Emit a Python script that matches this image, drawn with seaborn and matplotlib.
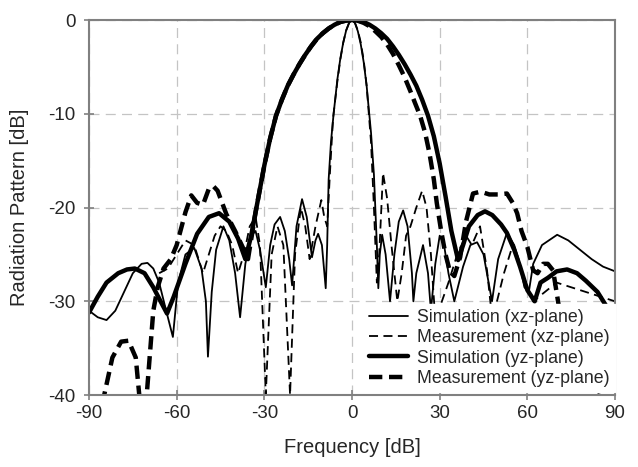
import pandas as pd
import matplotlib
matplotlib.use('Agg')
import matplotlib.pyplot as plt
import seaborn as sns

# Simulation (xz-plane) - narrow beam, thin solid
sim_xz_deg = [-90, -87, -84, -81, -78, -75, -72, -70, -68, -66, -64, -61.3, -59.5, -57, -54,
              -51.5, -50, -49.3, -48, -46.5, -44, -42, -40, -38.3, -36.5, -34.5, -33, -31.5,
              -29.5, -28, -26.5, -24.6, -23, -21.5, -20.5, -19, -17.1, -15.5, -13.7, -12.5,
              -11.6, -10.3, -9, -8.5, -8, -7.2, -6.3, -5, -4, -3, -2, -1, 0, 1, 2, 3, 4, 5,
              5.5, 6.5, 7.5, 8.5, 9, 9.5, 10.3, 11.5, 13, 14.5, 16, 17.5, 19, 20.5, 21, 22,
              24.3, 26, 27, 28.5, 30, 31.5, 33, 35, 38, 40.5, 42.8, 45, 47.9, 50, 53, 55.5,
              57, 59, 60.5, 62, 65, 70.2, 74, 78, 82, 85.9, 90]
sim_xz_db = [-31, -31.7, -32, -31, -29, -27, -26, -25.9, -26.5, -28, -30.5, -33.8, -28, -25, -24.3,
             -26.5, -30, -35.9, -29, -24.5, -22, -23.5, -27, -31.7, -26, -23, -22.5, -24.5,
             -28.5, -24, -21.8, -21, -22.5, -25.5, -28.3, -22, -19.1, -21, -25.3, -23.5,
             -22.8, -24, -28.6, -24, -17, -13, -10, -6.3, -4.1, -2.4, -1.1, -0.3, 0, -0.3, -1.2, -2.6, -4.5, -7,
             -8.7, -12, -16.5, -24, -28.6, -25, -22.9, -25, -30, -25, -21.5, -20.3, -22, -27, -30, -27,
             -24, -27, -31, -26, -23, -24, -27, -30, -26.3, -24, -23.7, -25, -30, -25.5, -22.7, -24,
             -25.5, -28.5, -29, -26, -24, -22.9, -23.5, -24.5, -25.5, -26.3, -26.8]

# Measurement (xz-plane) - thin dashed
meas_xz_deg = [-66, -63, -60, -57, -54, -51, -49, -47, -45, -43, -41, -39, -37,
               -35, -33, -31.5, -29.5, -27.5, -25.5, -23.5, -21.2, -19.5, -17.5, -16, -14.5,
               -12.5, -10.5, -9.5, -8.5, -7.5, -6.5, -5, -4, -3, -2, -1, 0, 1, 2, 3, 4, 5,
               5.5, 6.5, 7.5, 8.5, 9.3, 10.6, 12, 13.5, 15.5, 17, 18.5, 20, 22, 24, 25.5, 27,
               28.5, 33, 36, 39, 41, 43.8, 46.2, 48, 52, 55, 58, 62, 70, 80, 90]
meas_xz_db = [-27, -26.5, -25, -23.5, -24, -27, -25, -23, -22, -22.5, -24, -27, -25,
              -22, -21, -24, -40, -25, -22, -24, -40, -25, -20, -22, -25.5,
              -22, -19.2, -21, -22, -16, -10.5, -6.5, -4.2, -2.4, -1.1, -0.3, 0, -0.3, -1.1, -2.4, -4.3, -7,
              -9, -13, -20, -28, -25, -16.3, -19, -24, -30, -27, -23, -22, -20, -18.2, -20, -25,
              -32, -28, -25, -23, -24, -22, -26.7, -32, -27, -24, -27, -30, -28, -29, -30]

# Simulation (yz-plane) - wide beam, thick solid
sim_yz_deg = [-90, -87, -84, -80, -77, -74.3, -71, -68, -65.5, -63.3, -61, -57, -53, -49, -45.5,
              -42, -39, -36.5, -34.5, -33, -31.5, -30, -28, -26, -24, -22, -20, -18, -16, -14,
              -12, -10, -8, -6, -4, -2, 0, 2, 4, 6, 8, 10, 12, 14, 16, 18, 20, 22, 24, 26, 28,
              30, 32, 34, 36.3, 38, 40, 43, 45.5, 48, 51, 53, 55.5, 57.5, 60, 62.5, 64.5, 67,
              70, 73.6, 77, 80, 84, 87, 90]
sim_yz_db = [-31.2, -29.5, -28, -27, -26.6, -26.5, -27, -28.5, -30, -31.3, -29.5, -26, -22.8, -21, -20.6,
             -21.5, -23.3, -25.5, -23, -20.5, -18, -15.5, -12.6, -10.2, -8.5, -7, -5.8, -4.7, -3.7, -2.8,
             -2, -1.4, -0.9, -0.5, -0.2, -0.05, 0, -0.05, -0.2, -0.5, -0.9, -1.4, -2, -2.8, -3.7, -4.7, -5.8, -7, -8.5, -10.2, -12.4,
             -15.3, -18.8, -22.5, -25.6, -24, -22, -20.8, -20.4, -20.8, -21.8, -22.7, -24.5, -26.3, -28.8, -30, -28, -27.5,
             -26.8, -26.6, -27, -27.8, -29, -30.5, -32]

# Measurement (yz-plane) - thick dashed
meas_yz_deg = [-85.5, -82, -79, -76.5, -74, -72.5, -70.5, -68, -66.5, -64.5, -62, -60, -57, -55,
               -53, -51, -49, -47.5, -46, -43, -40, -37, -35.6, -33, -31.5, -30, -28, -26, -24,
               -22, -20, -18, -16, -14, -12, -10, -8, -6, -4, -2, 0, 2, 4, 6, 8, 10, 12, 14, 16,
               18, 20, 21.5, 23.3, 25, 26.5, 28, 29, 30.5, 32, 33.5, 35, 37, 39, 41.4, 44, 47,
               50, 53, 55, 56.5, 58, 60, 62, 63.5, 65.4, 67, 68.8, 70.5, 72.5, 74, 75, 77, 80,
               83, 85, 87, 90]
meas_yz_db = [-41, -36, -34.3, -34.2, -36, -41, -41, -31, -28.5, -26.5, -25.5, -24, -20.5, -18.7,
              -19.5, -19.7, -18, -17.7, -18.2, -20.7, -22.5, -24.5, -25.5, -20.5, -18, -15.5, -12.6, -10.2, -8.5,
              -7, -5.8, -4.7, -3.7, -2.8, -2, -1.4, -0.9, -0.5, -0.2, -0.05, 0, -0.07, -0.3, -0.65, -1.2, -1.8, -2.6, -3.6, -4.8,
              -6.1, -7.6, -8.8, -10.2, -12, -14.2, -17, -19.5, -22.5, -25, -26.8, -27.3, -25.3, -21.5, -18.5, -18.3, -18.6,
              -18.6, -18.5, -19.5, -20.6, -22.5, -24.2, -26.7, -27, -26, -26, -26.7, -30, -34, -38, -33, -31, -33,
              -38, -40, -36, -34]

sns.set_style('ticks')
plt.rcParams['font.family'] = ['Liberation Sans', 'DejaVu Sans']
plt.rcParams['axes.unicode_minus'] = False

fig, ax = plt.subplots(figsize=(6.38, 4.67), dpi=100)
fig.subplots_adjust(left=0.1395, right=0.964, top=0.957, bottom=0.154)

sns.lineplot(x=sim_xz_deg, y=sim_xz_db, ax=ax, sort=False, color='black', lw=1.3,
             label='Simulation (xz-plane)')
sns.lineplot(x=meas_xz_deg, y=meas_xz_db, ax=ax, sort=False, color='black', lw=1.3,
             label='Measurement (xz-plane)')
sns.lineplot(x=sim_yz_deg, y=sim_yz_db, ax=ax, sort=False, color='black', lw=3.2,
             label='Simulation (yz-plane)')
sns.lineplot(x=meas_yz_deg, y=meas_yz_db, ax=ax, sort=False, color='black', lw=3.2,
             label='Measurement (yz-plane)')
ax.lines[1].set_dashes([5, 3])
ax.lines[3].set_dashes([3, 1.5])

ax.set_xlim(-90, 90)
ax.set_ylim(-40, 0)
ax.set_xticks(range(-90, 91, 30))
ax.set_yticks(range(-40, 1, 10))
ax.grid(True, color='#c4c4c4', linestyle=(0, (8, 5)), lw=0.9)
ax.tick_params(direction='inout', length=7, width=1.2, color='#808080', labelsize=13.5)
ax.tick_params(axis='y', pad=6)
for s in ax.spines.values():
    s.set_color('#808080')
    s.set_linewidth(1.5)

ax.set_xlabel('Frequency [dB]', fontsize=14.5, labelpad=12)
ax.set_ylabel('Radiation Pattern [dB]', fontsize=14.5, labelpad=14)

leg = ax.legend(loc='lower right', bbox_to_anchor=(1.0, 0.008), borderaxespad=0,
                fontsize=12.8, frameon=True, fancybox=False, framealpha=1,
                edgecolor='white', facecolor='white', handlelength=2.2,
                labelspacing=0.18, borderpad=0.3, handletextpad=0.5)
for h in leg.get_lines():
    h.set_color('black')

fig.savefig('out.png', dpi=100)
